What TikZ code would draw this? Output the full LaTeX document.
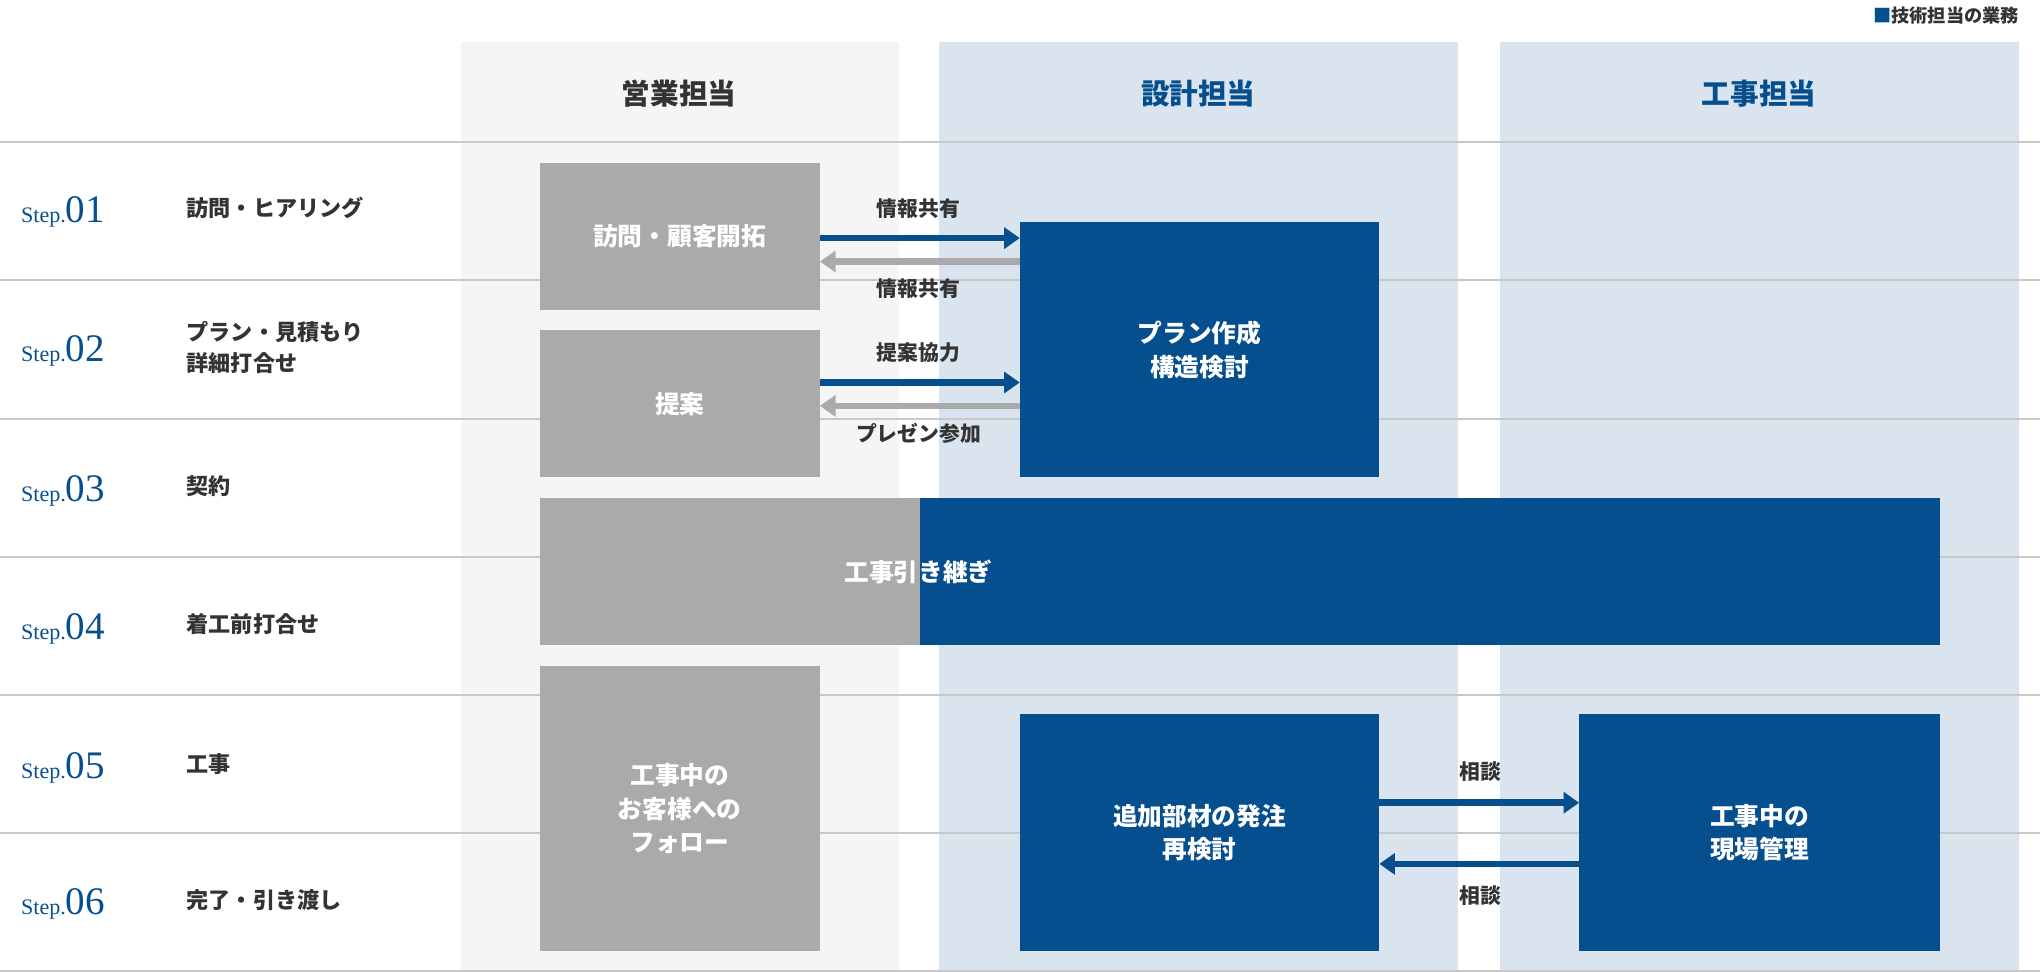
\documentclass[tikz,border=0pt]{standalone}
\usepackage{fontspec}
\setmainfont{Noto Sans CJK JP}
\newfontfamily\stepfont{Liberation Serif}
\usetikzlibrary{arrows.meta}
\definecolor{tblue}{HTML}{064F8E}
\definecolor{tgray}{HTML}{AAAAAA}
\definecolor{lgray}{HTML}{F5F5F5}
\definecolor{lblue}{HTML}{D9E4EE}
\definecolor{lineg}{HTML}{C8C8C8}
\definecolor{txt}{HTML}{333333}
\tikzset{
 gbox/.style={fill=tgray,text=white,font=\bfseries\fontsize{19}{26}\selectfont,align=center,inner sep=0},
 bbox/.style={fill=tblue,text=white,font=\bfseries\fontsize{19}{26}\selectfont,align=center,inner sep=0},
 lab/.style={text=txt,font=\bfseries\fontsize{16}{20}\selectfont},
 steplab/.style={text=txt,font=\bfseries\fontsize{17}{24}\selectfont,anchor=west,align=left},
 arrb/.style={draw=tblue,line width=5pt,-{Triangle[length=12pt,width=16pt]}},
 arrg/.style={draw=tgray,line width=5pt,-{Triangle[length=12pt,width=16pt]}},
 hdr/.style={font=\bfseries\fontsize{22}{26}\selectfont},
}
\newcommand{\stp}[1]{{\stepfont\color{tblue}\fontsize{17}{20}\selectfont Step.\fontsize{30}{30}\selectfont #1}}
\begin{document}
\begin{tikzpicture}[x=1pt,y=-1pt]
\useasboundingbox (0,0) rectangle (1568,747);
\fill[lgray] (354,32) rectangle (691,747);
\fill[lblue] (722,32) rectangle (1121,747);
\fill[lblue] (1153,32) rectangle (1552,747);
\foreach \y in {109,215,322,428,534,640,746} \draw[lineg,line width=1.5pt] (0,\y) -- (1568,\y);
\node[anchor=east,font=\bfseries\fontsize{14}{16}\selectfont,text=txt,inner sep=0] (leg) at (1552,12) {{\color{tblue}■}技術担当の業務};
\node[hdr,text=txt] (h1) at (522,72) {営業担当};
\node[hdr,text=tblue] (h2) at (921,72) {設計担当};
\node[hdr,text=tblue] (h3) at (1352,72) {工事担当};
\foreach \n/\y/\t in {01/163/{訪問・ヒアリング},02/270/{プラン・見積もり\\詳細打合せ},03/377/契約,04/483/着工前打合せ,05/590/工事,06/695/{完了・引き渡し}}{
 \node[anchor=west,inner sep=0] (s\n) at (16,\y) {\stp{\n}};
 \node[steplab] (t\n) at (140,\y-3) {\t};
}
\node[gbox,minimum width=215pt,minimum height=113pt] (a) at (522.5,181.5) {訪問・顧客開拓};
\node[gbox,minimum width=215pt,minimum height=113pt] (b) at (522.5,310.5) {提案};
\node[gbox,minimum width=292pt,minimum height=113pt] (c1) at (561,439.5) {};
\node[bbox,minimum width=784pt,minimum height=113pt] (c2) at (1099,439.5) {};
\node[text=white,font=\bfseries\fontsize{19}{26}\selectfont] (ct) at (706,439.5) {工事引き継ぎ};
\node[gbox,minimum width=215pt,minimum height=219pt] (d) at (522.5,621.5) {工事中の\\お客様への\\フォロー};
\node[bbox,minimum width=276pt,minimum height=196pt] (p) at (922,269) {プラン作成\\構造検討};
\node[bbox,minimum width=276pt,minimum height=182pt] (e) at (922,640) {追加部材の発注\\再検討};
\node[bbox,minimum width=277pt,minimum height=182pt] (f) at (1352.5,640) {工事中の\\現場管理};
\draw[arrb] (a.east|-0,183) -- (p.west|-0,183);
\draw[arrg] (p.west|-0,201) -- (a.east|-0,201);
\node[lab] (l1) at (706,160) {情報共有};
\node[lab] (l2) at (706,222) {情報共有};
\draw[arrb] (b.east|-0,294) -- (p.west|-0,294);
\draw[arrg] (p.west|-0,312) -- (b.east|-0,312);
\node[lab] (l3) at (706,271) {提案協力};
\node[lab] (l4) at (706,333) {プレゼン参加};
\draw[arrb] (e.east|-0,617) -- (f.west|-0,617);
\draw[arrb] (f.west|-0,664) -- (e.east|-0,664);
\node[lab] (l5) at (1138,593) {相談};
\node[lab] (l6) at (1138,688) {相談};
\end{tikzpicture}
\end{document}
